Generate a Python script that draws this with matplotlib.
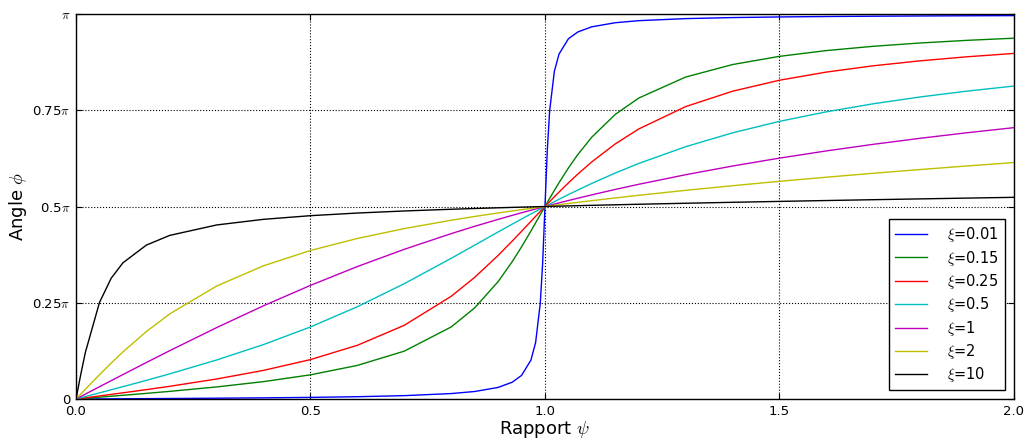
import matplotlib
matplotlib.use("Agg")
import matplotlib.pyplot as plt
import numpy as np

# frequency ratio psi (x axis)
psi = [0, 0.01, 0.02, 0.05, 0.075, 0.1, 0.15, 0.2, 0.3, 0.4, 0.5, 0.6, 0.7, 0.8,
       0.85, 0.9, 0.93, 0.95, 0.97, 0.98, 0.99, 0.995, 1.0, 1.005, 1.01, 1.02,
       1.03, 1.05, 1.07, 1.1, 1.15, 1.2, 1.3, 1.4, 1.5, 1.6, 1.7, 1.8, 1.9, 2.0]

# phase angle phi, in units of pi
phi_001 = [0, 0.00006, 0.00013, 0.00032, 0.00048, 0.00064, 0.00098, 0.00133, 0.0021,
           0.00303, 0.00424, 0.00597, 0.00874, 0.01414, 0.01948, 0.03007, 0.04355,
           0.06126, 0.10097, 0.1463, 0.2492, 0.3521, 0.5, 0.64726, 0.74921, 0.85116,
           0.89616, 0.93567, 0.95333, 0.96678, 0.97734, 0.98266, 0.98801, 0.99072,
           0.99236, 0.99347, 0.99427, 0.99488, 0.99537, 0.99576]
phi_015 = [0, 0.00096, 0.00191, 0.00479, 0.0072, 0.00964, 0.01464, 0.01987, 0.03138,
           0.04517, 0.06283, 0.08727, 0.12433, 0.18717, 0.23656, 0.30481, 0.35646,
           0.39508, 0.43622, 0.45738, 0.4787, 0.48937, 0.5, 0.51058, 0.52109, 0.54178,
           0.56194, 0.60014, 0.63497, 0.6804, 0.73927, 0.78173, 0.83624, 0.86872,
           0.89001, 0.90499, 0.91611, 0.92471, 0.93156, 0.93717]
phi_025 = [0, 0.00159, 0.00318, 0.00798, 0.012, 0.01606, 0.02438, 0.03304, 0.052,
           0.0744, 0.10242, 0.13953, 0.19145, 0.26674, 0.31588, 0.37283, 0.41,
           0.43556, 0.46141, 0.47433, 0.48721, 0.49362, 0.5, 0.50635, 0.51266, 0.52516,
           0.53747, 0.56137, 0.58419, 0.6161, 0.6627, 0.70141, 0.7595, 0.79945,
           0.82798, 0.84917, 0.86547, 0.87839, 0.88889, 0.89758]
phi_05 = [0, 0.00318, 0.00637, 0.01594, 0.02396, 0.03204, 0.04847, 0.06538, 0.10137,
          0.14146, 0.18717, 0.23973, 0.29958, 0.3654, 0.39955, 0.43378, 0.45408,
          0.46745, 0.48063, 0.48715, 0.4936, 0.49681, 0.5, 0.50318, 0.50633, 0.5126,
          0.5188, 0.53098, 0.54285, 0.56005, 0.58703, 0.61187, 0.65533, 0.69133,
          0.72114, 0.74597, 0.76683, 0.78453, 0.7997, 0.81283]
phi_1 = [0, 0.00637, 0.01273, 0.0318, 0.04766, 0.06345, 0.09479, 0.12567, 0.18555,
         0.24224, 0.29517, 0.34404, 0.3888, 0.42955, 0.4485, 0.46653, 0.47692,
         0.48368, 0.49031, 0.49357, 0.4968, 0.4984, 0.5, 0.50159, 0.50317, 0.5063,
         0.50941, 0.51553, 0.52152, 0.53029, 0.54434, 0.55772, 0.58257, 0.60514,
         0.62567, 0.64439, 0.66149, 0.67717, 0.69157, 0.70483]
phi_2 = [0, 0.01273, 0.02542, 0.06299, 0.09327, 0.12223, 0.17524, 0.22114, 0.29348,
         0.34611, 0.3858, 0.41705, 0.44265, 0.46434, 0.47408, 0.48322, 0.48845,
         0.49184, 0.49515, 0.49678, 0.4984, 0.4992, 0.5, 0.50079, 0.50158, 0.50315,
         0.50471, 0.50777, 0.51077, 0.51518, 0.52228, 0.5291, 0.54199, 0.55404,
         0.56538, 0.57611, 0.58629, 0.59601, 0.6053, 0.6142]
phi_10 = [0, 0.06284, 0.12116, 0.2504, 0.31366, 0.35369, 0.39974, 0.42502, 0.45209,
          0.4667, 0.47617, 0.48304, 0.48841, 0.49284, 0.4948, 0.49664, 0.49769,
          0.49837, 0.49903, 0.49936, 0.49968, 0.49984, 0.5, 0.50016, 0.50032, 0.50063,
          0.50094, 0.50155, 0.50216, 0.50304, 0.50446, 0.50584, 0.50845, 0.51091,
          0.51326, 0.51551, 0.51768, 0.51978, 0.52183, 0.52383]

xi_labels = ["0.01", "0.15", "0.25", "0.5", "1", "2", "10"]
series = [phi_001, phi_015, phi_025, phi_05, phi_1, phi_2, phi_10]
colors = ["b", "g", "r", "c", "m", "y", "k"]

ytick_vals = [0, 0.25, 0.5, 0.75, 1.0]
ytick_labels = ["0", r"0.25$\pi$", r"0.5$\pi$", r"0.75$\pi$", r"$\pi$"]
xtick_vals = [0.0, 0.5, 1.0, 1.5, 2.0]

plt.rcParams["mathtext.fontset"] = "cm"
plt.rcParams["xtick.direction"] = "in"
plt.rcParams["ytick.direction"] = "in"
plt.rcParams["xtick.top"] = True
plt.rcParams["ytick.right"] = True

fig = plt.figure(figsize=(10.27, 4.43), dpi=100)
ax = fig.add_axes([0.074, 0.0993, 0.9133, 0.8691])

x = np.array(psi)
for phi, lab, c in zip(series, xi_labels, colors):
    ax.plot(x, np.array(phi) * np.pi, color=c, lw=1.0, label=r"$\xi$=" + lab)

ax.set_xlim(0, 2)
ax.set_ylim(0, np.pi)
ax.set_xticks(xtick_vals)
ax.set_xticklabels(["%.1f" % v for v in xtick_vals], fontsize=9.5)
ax.set_yticks([v * np.pi for v in ytick_vals])
ax.set_yticklabels(ytick_labels, fontsize=9.5)
ax.tick_params(length=4, width=0.8, color="k", pad=4)
ax.grid(True, color="k", linestyle=":", linewidth=0.8)
for s in ax.spines.values():
    s.set_linewidth(1.0)

ax.set_xlabel(r"Rapport $\psi$", fontsize=13, labelpad=1)
ax.set_ylabel(r"Angle $\phi$", fontsize=13, labelpad=2)

leg = ax.legend(loc="lower right", fontsize=10.5, fancybox=False, framealpha=1,
                edgecolor="k", borderaxespad=0.6, handlelength=2.2,
                handletextpad=1.4, labelspacing=0.3)
leg.get_frame().set_linewidth(1.0)

fig.savefig("out.png", dpi=100)
